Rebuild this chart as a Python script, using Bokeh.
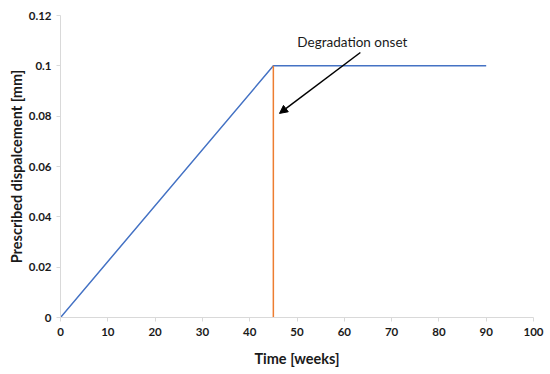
from bokeh.plotting import figure
from bokeh.models import FixedTicker, Arrow, NormalHead, Label, Range1d
from bokeh.embed import file_html
from bokeh.resources import INLINE

# Data
time_weeks = [0, 45, 90]
displacement = [0, 0.1, 0.1]
onset_time = [45, 45]
onset_disp = [0, 0.1]
x_ticks = [0, 10, 20, 30, 40, 50, 60, 70, 80, 90, 100]
y_ticks = [0, 0.02, 0.04, 0.06, 0.08, 0.1, 0.12]
y_tick_labels = ["0", "0.02", "0.04", "0.06", "0.08", "0.1", "0.12"]
annot_text = "Degradation onset"
annot_pos = (61.7, 0.1095)
arrow_start = (63.4, 0.1053)
arrow_end = (46.3, 0.0811)

p = figure(width=550, height=374, output_backend="svg", toolbar_location=None,
           x_range=Range1d(0, 100), y_range=Range1d(0, 0.12),
           min_border_left=60, min_border_right=17, min_border_top=15, min_border_bottom=57)
p.outline_line_color = None
p.grid.visible = False
p.background_fill_color = "white"
p.border_fill_color = "white"

p.line(time_weeks, displacement, line_color="#4472C4", line_width=1.5)
p.line(onset_time, onset_disp, line_color="#ED7D31", line_width=1.5)

for ax in (p.xaxis[0], p.yaxis[0]):
    ax.axis_line_color = "#D9D9D9"
    ax.major_tick_line_color = "#D9D9D9"
    ax.minor_tick_line_color = None
    ax.major_tick_in = 0
    ax.major_tick_out = 4
    ax.major_label_text_font = "Lato"
    ax.major_label_text_font_style = "bold"
    ax.major_label_text_font_size = "11.5px"
    ax.major_label_text_color = "#1a1a1a"
    ax.axis_label_text_font = "Lato"
    ax.axis_label_text_font_style = "bold"
    ax.axis_label_text_font_size = "14.5px"
    ax.axis_label_text_color = "#1a1a1a"

p.xaxis.ticker = FixedTicker(ticks=x_ticks)
p.yaxis.ticker = FixedTicker(ticks=y_ticks)
p.yaxis.major_label_overrides = {t: l for t, l in zip(y_ticks, y_tick_labels)}
p.xaxis.axis_label = "Time [weeks]"
p.yaxis.axis_label = "Prescribed dispalcement [mm]"
p.xaxis.major_label_standoff = 6
p.xaxis.axis_label_standoff = 11
p.yaxis.major_label_standoff = 5
p.yaxis.axis_label_standoff = 1

p.add_layout(Arrow(end=NormalHead(size=8, fill_color="black", line_color="black"),
                   x_start=arrow_start[0], y_start=arrow_start[1],
                   x_end=arrow_end[0], y_end=arrow_end[1],
                   line_color="black", line_width=1.5))
p.add_layout(Label(x=annot_pos[0], y=annot_pos[1], text=annot_text,
                   text_align="center", text_baseline="middle",
                   text_font="Lato", text_font_size="13.5px", text_color="#1a1a1a"))

open("out.html", "w").write(file_html(p, INLINE))
